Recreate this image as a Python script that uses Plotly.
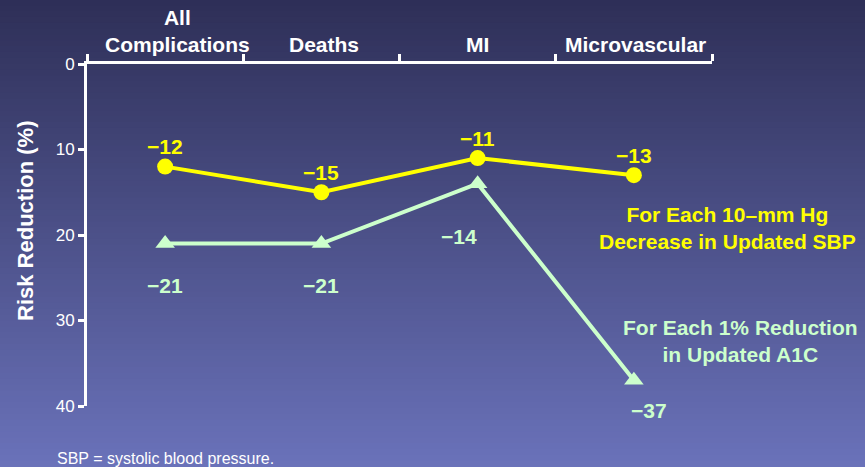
import plotly.graph_objects as go

categories = ["All<br>Complications", "Deaths", "MI", "Microvascular"]
sbp_values = [12, 15, 11, 13]
a1c_values = [21, 21, 14, 37]
y_ticks = [0, 10, 20, 30, 40]

W, H = 865, 467
L, R, T, B = 87, 153, 64, 61

YELLOW = "#ffff00"
GREEN = "#ccffcc"
FONT = "Liberation Sans, Arial, sans-serif"
BIG = 21

x = list(range(len(categories)))

fig = go.Figure()

fig.add_trace(go.Scatter(
    x=x, y=a1c_values, mode="lines+markers",
    line=dict(color=GREEN, width=4),
    marker=dict(symbol="triangle-up", size=17, color=GREEN),
    cliponaxis=False, showlegend=False, hoverinfo="skip"))
fig.add_trace(go.Scatter(
    x=x, y=sbp_values, mode="lines+markers",
    line=dict(color=YELLOW, width=4),
    marker=dict(symbol="circle", size=16, color=YELLOW),
    cliponaxis=False, showlegend=False, hoverinfo="skip"))

# background gradient
top = (46, 47, 87)
bot = (106, 114, 186)
n = 80
shapes = []
pw = W - L - R
ph = H - T - B
for i in range(n):
    f0 = i / n
    f1 = (i + 1) / n
    c = tuple(int(round(top[k] + (bot[k] - top[k]) * (f0 + f1) / 2)) for k in range(3))
    py0 = f0 * H
    py1 = f1 * H
    shapes.append(dict(
        type="rect", xref="paper", yref="paper", layer="below",
        x0=-L / pw - 0.01, x1=1 + R / pw + 0.01,
        y0=1 - (py1 - T) / ph - 0.002, y1=1 - (py0 - T) / ph + 0.002,
        fillcolor="rgb(%d,%d,%d)" % c, line=dict(width=0)))

def py(p):
    """pixel row -> paper y"""
    return 1 - (p - T) / ph

def px(p):
    return (p - L) / pw

annotations = []
# category labels above the top axis
cat_shifts = [12, 3, 0, 2]
for xi, lab, dx in zip(x, categories, cat_shifts):
    annotations.append(dict(x=xi, y=1, xref="x", yref="paper", text="<b>%s</b>" % lab,
                            showarrow=False, xanchor="center", yanchor="bottom",
                            xshift=dx, yshift=6,
                            font=dict(family=FONT, size=BIG, color="white")))
for xi, v in zip(x, sbp_values):
    annotations.append(dict(x=xi, y=v, xref="x", yref="y", text="<b>\u2212%d</b>" % v,
                            showarrow=False, yshift=20,
                            font=dict(family=FONT, size=BIG, color=YELLOW)))
a1c_shifts = [(0, -42), (0, -42), (-19, -53), (15, -30)]
for xi, v, (dx, dy) in zip(x, a1c_values, a1c_shifts):
    annotations.append(dict(x=xi, y=v, xref="x", yref="y", text="<b>\u2212%d</b>" % v,
                            showarrow=False, xshift=dx, yshift=dy,
                            font=dict(family=FONT, size=BIG, color=GREEN)))

annotations.append(dict(x=1 + 15 / pw, y=py(228), xref="paper", yref="paper",
                        text="<b>For Each 10\u2013mm Hg<br>Decrease in Updated SBP</b>",
                        showarrow=False, xanchor="center", yanchor="middle",
                        font=dict(family=FONT, size=BIG, color=YELLOW)))
annotations.append(dict(x=1 + 28 / pw, y=py(341), xref="paper", yref="paper",
                        text="<b>For Each 1% Reduction<br>in Updated A1C</b>",
                        showarrow=False, xanchor="center", yanchor="middle",
                        font=dict(family=FONT, size=BIG, color=GREEN)))
annotations.append(dict(x=px(55), y=py(458), xref="paper", yref="paper",
                        text="SBP = systolic blood pressure.", showarrow=False,
                        xanchor="left", yanchor="middle",
                        font=dict(family=FONT, size=16, color="white")))
annotations.append(dict(x=px(26), y=py(221), xref="paper", yref="paper",
                        text="<b>Risk Reduction (%)</b>", textangle=-90, showarrow=False,
                        xanchor="center", yanchor="middle",
                        font=dict(family=FONT, size=22, color="white")))

fig.update_layout(
    width=W, height=H,
    margin=dict(l=L, r=R, t=T, b=B, autoexpand=False),
    paper_bgcolor="rgb(46,47,87)", plot_bgcolor="rgba(0,0,0,0)",
    shapes=shapes, annotations=annotations,
    xaxis=dict(
        range=[-0.5, 3.5], side="top", tickmode="array", tickvals=x,
        showticklabels=False, automargin=False,
        ticks="", showgrid=False, zeroline=False, showline=True, linecolor="white",
        linewidth=3,
        minor=dict(tickmode="linear", tick0=-0.5, dtick=1, ticks="outside", ticklen=7,
                   tickwidth=3, tickcolor="white", showgrid=False)),
    yaxis=dict(
        range=[40, 0], tickvals=y_ticks, ticks="outside", ticklen=6, tickwidth=3,
        tickcolor="white", showgrid=False, zeroline=False, showline=True,
        linecolor="white", linewidth=3, automargin=False,
        tickfont=dict(family=FONT, size=17, color="white")),
)

fig.write_html("out.html", post_script="document.body.style.margin='0';",
               config={"displayModeBar": False})
